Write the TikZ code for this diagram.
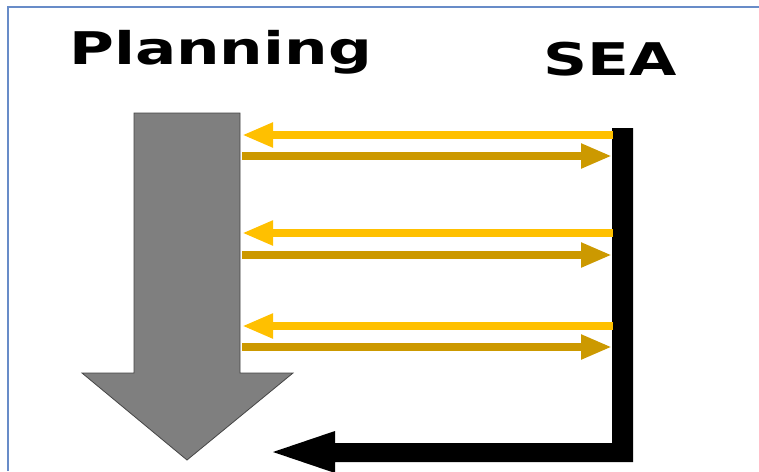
\documentclass[tikz,border=0pt]{standalone}
\usepackage{fontspec}
\newfontfamily\headfont{DejaVu Sans}
\usetikzlibrary{arrows.meta}
\definecolor{frameblue}{RGB}{104,140,200}
\definecolor{lightgold}{RGB}{255,192,0}
\definecolor{darkgold}{RGB}{204,153,0}
\definecolor{flowgray}{RGB}{127,127,127}
\definecolor{edgegray}{RGB}{70,70,70}
\begin{document}
\begin{tikzpicture}[x=1pt,y=-1pt,
  heading/.style={anchor=base,inner sep=0pt,xscale=1.36,
    font=\headfont\bfseries\fontsize{45}{54}\selectfont},
  goldtip/.style={-{Triangle[length=31pt,width=23pt]}},
  request/.style={goldtip,line width=8pt,draw=lightgold},
  reply/.style={goldtip,line width=8pt,draw=darkgold},
  flow/.style={fill=flowgray,draw=edgegray,line width=0.8pt},
  feedback/.style={fill=black,draw=none}]
  \useasboundingbox (0,0) rectangle (759,471);
  \fill[white] (0,0) rectangle (759,471);
  % frame
  \draw[frameblue,line width=1.4pt] (8,471) -- (8,7) -- (759,7);

  % headings
  \node[heading] (planning) at (220.5,64) {Planning};
  \node[heading] (sea) at (610.5,75) {SEA};

  % planning flow arrow
  \draw[flow] (134,113) -- (240,113) -- (240,373) -- (293,373)
    -- (187,460) -- (82,373) -- (134,373) -- cycle;

  % SEA feedback arrow
  \fill[feedback] (612,128) -- (633,128) -- (633,462) -- (335,462)
    -- (335,473) -- (273,452) -- (335,431) -- (335,443) -- (612,443) -- cycle;

  % exchange points
  \foreach \i/\yl/\yd in {1/135/156, 2/233/255, 3/326/347}{
    \coordinate (p\i l) at (242,\yl);
    \coordinate (s\i l) at (613,\yl);
    \coordinate (p\i d) at (242,\yd);
    \coordinate (s\i d) at (612,\yd);
    \draw[request] (s\i l) -- (p\i l);
    \draw[reply] (p\i d) -- (s\i d);
  }
\end{tikzpicture}
\end{document}
